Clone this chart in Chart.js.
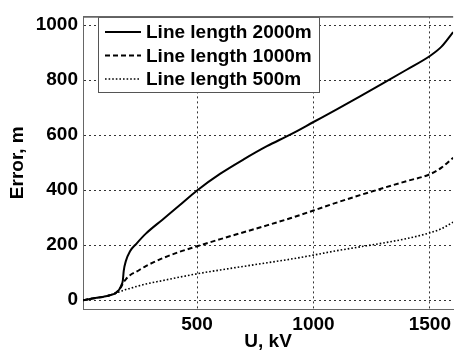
<!DOCTYPE html>
<html>
<head>
<meta charset="utf-8">
<script src="https://cdn.jsdelivr.net/npm/chart.js@4/dist/chart.umd.min.js"></script>
<style>
  html, body { margin: 0; padding: 0; background: #fff; }
  #wrap { width: 455px; height: 353px; }
</style>
</head>
<body>
<div id="wrap"><canvas id="c" width="455" height="353"></canvas></div>
<script>
// voltage, kV
const U = [10, 50, 100, 125, 150, 165, 175, 181, 185, 194, 212, 240, 280, 350, 425, 500,
  600, 700, 800, 900, 1000, 1100, 1200, 1300, 1400, 1500, 1550, 1600];

// error, m  (one array per line length)
const err2000 = [0, 6, 13, 18, 26, 38, 55, 71, 107, 142, 178, 206, 242, 292, 345, 399,
  460, 512, 560, 602, 648, 694, 741, 789, 838, 888, 922, 975];
const err1000 = [0, 6, 13, 18, 26, 38, 50, 60, 66, 76, 91, 104, 124, 152, 176, 196,
  222, 247, 272, 298, 326, 355, 382, 408, 433, 458, 482, 518];
const err500 = [0, 6, 13, 18, 26, 30, 33, 35, 36, 39, 43, 50, 59, 71, 84, 96,
  110, 123, 136, 149, 164, 180, 194, 208, 224, 245, 260, 284];

const seriesNames = ['Line length 2000m', 'Line length 1000m', 'Line length 500m'];
const xTicks = [500, 1000, 1500];
const yTicks = [0, 200, 400, 600, 800, 1000];

const FONT = { family: '"Liberation Sans", Arial, sans-serif', size: 19, weight: 'bold' };

const pts = arr => U.map((u, i) => ({ x: u, y: arr[i] }));

// legend box drawn inside the plot, top-left (like matlab)
const boxLegend = {
  id: 'boxLegend',
  afterDatasetsDraw(chart) {
    const ctx = chart.ctx;
    ctx.save();
    ctx.fillStyle = '#fff';
    ctx.fillRect(98.5, 17.5, 221, 75);
    ctx.strokeStyle = '#555';
    ctx.lineWidth = 1;
    ctx.strokeRect(98.5, 17.5, 221, 75);
    const rows = [32, 55.5, 79];
    chart.data.datasets.forEach((ds, i) => {
      ctx.beginPath();
      ctx.setLineDash(ds.borderDash || []);
      ctx.lineWidth = ds.borderWidth;
      ctx.strokeStyle = ds.borderColor;
      ctx.moveTo(105, rows[i]);
      ctx.lineTo(141, rows[i]);
      ctx.stroke();
      ctx.setLineDash([]);
      ctx.fillStyle = '#000';
      ctx.font = 'bold 19px "Liberation Sans", Arial, sans-serif';
      ctx.textBaseline = 'middle';
      ctx.fillText(ds.label, 146, rows[i] + 1);
    });
    // top edge of the axes box
    const a = chart.chartArea;
    ctx.beginPath();
    ctx.strokeStyle = '#666';
    ctx.moveTo(a.left, a.top + 0.5);
    ctx.lineTo(a.right, a.top + 0.5);
    ctx.stroke();
    ctx.restore();
  }
};

new Chart(document.getElementById('c'), {
  type: 'scatter',
  data: {
    datasets: [
      { label: seriesNames[0], data: pts(err2000), borderColor: '#000', borderWidth: 2 },
      { label: seriesNames[1], data: pts(err1000), borderColor: '#000', borderWidth: 2, borderDash: [5, 3] },
      { label: seriesNames[2], data: pts(err500), borderColor: '#000', borderWidth: 1.6, borderDash: [1.6, 2] }
    ].map(d => Object.assign(d, { showLine: true, pointRadius: 0, cubicInterpolationMode: 'monotone', fill: false }))
  },
  options: {
    responsive: false,
    animation: false,
    layout: { padding: { top: 10, right: 0, left: 0, bottom: 0 } },
    plugins: { legend: { display: false }, tooltip: { enabled: false } },
    scales: {
      x: {
        type: 'linear', min: 10, max: 1600,
        afterBuildTicks: s => { s.ticks = xTicks.map(v => ({ value: v })); },
        afterFit: s => { s.height = 44; },
        grid: { color: '#333', lineWidth: 1, drawTicks: false },
        border: { display: true, color: '#666', width: 1, dash: [2, 3] },
        ticks: { color: '#000', font: FONT, padding: 4, maxRotation: 0, callback: v => String(v) },
        title: { display: true, text: 'U, kV', color: '#000', font: FONT, padding: { top: 0, bottom: 0 } }
      },
      y: {
        type: 'linear', min: -32, max: 1032,
        afterBuildTicks: s => { s.ticks = yTicks.map(v => ({ value: v })); },
        afterFit: s => { s.width = 83; },
        grid: { color: '#333', lineWidth: 1, drawTicks: false },
        border: { display: true, color: '#666', width: 1, dash: [2, 3] },
        ticks: { color: '#000', font: FONT, padding: 5, callback: v => String(v) },
        title: { display: true, text: 'Error, m', color: '#000', font: FONT, padding: { top: 6, bottom: 0 } }
      }
    }
  },
  plugins: [boxLegend]
});
</script>
</body>
</html>
